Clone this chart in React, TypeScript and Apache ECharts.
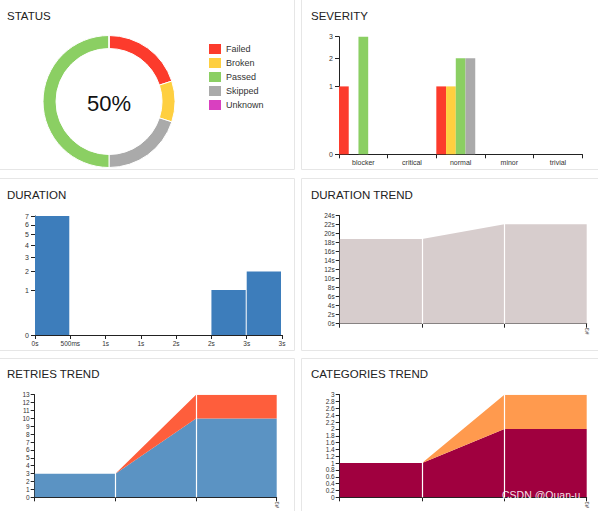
import React, { useEffect, useRef } from "react";
import * as echarts from "echarts";

// ---------- data ----------
const statusNames = ["Failed", "Broken", "Passed", "Skipped", "Unknown"];
const statusColors = ["#fc3b2c", "#fecf40", "#8bcf63", "#aaaaaa", "#d940c0"];
const statusCounts = [2, 1, 5, 2, 0];
const pieDrawOrder = [0, 1, 3, 2, 4];

const severityCategories = ["blocker", "critical", "normal", "minor", "trivial"];
const severityFailed = [1, 0, 1, 0, 0];
const severityBroken = [0, 0, 1, 0, 0];
const severityPassed = [3, 0, 2, 0, 0];
const severitySkipped = [0, 0, 2, 0, 0];
const severityUnknown = [0, 0, 0, 0, 0];
const severityTicks = [0, 1, 2, 3];

const durationTickValues = [0, 0.5, 1, 1.5, 2, 2.5, 3, 3.5];
const durationTickLabels = ["0s", "500ms", "1s", "1s", "2s", "2s", "3s", "3s"];
const durationBinStart = [0, 2.5, 3];
const durationBinEnd = [0.5, 3, 3.5];
const durationCounts = [7, 1, 2];
const durationTicks = [0, 1, 2, 3, 4, 5, 6, 7];

const trendBuilds = ["", "", "", "#3"];
const durationTrendSeconds = [18.8, 18.8, 22.1, 22.1];
const retriesTrendLower = [3, 3, 10, 10];
const retriesTrendUpper = [0, 0, 3, 3];
const categoriesTrendLower = [1, 1, 2, 2];
const categoriesTrendUpper = [0, 0, 1, 1];

// ---------- styles ----------
const FONT = "Liberation Sans, Arial, sans-serif";
const AXIS_COLOR = "#222";
const axisLine = { show: true, lineStyle: { color: AXIS_COLOR, width: 1 } };
const axisTick = { show: true, length: 4, lineStyle: { color: AXIS_COLOR } };
const lbl = (size: number, extra: any = {}) => ({
  fontSize: size,
  color: "#333",
  fontFamily: FONT,
  ...extra,
});

const titleStyle = { fontSize: 11.5, fontWeight: "normal", color: "#222", fontFamily: FONT };

const sqrtAxis = (gridIndex: number, ticks: number[]) => {
  const vals = ticks.map((t) => Math.sqrt(t));
  return {
    type: "value",
    gridIndex,
    min: 0,
    max: vals[vals.length - 1],
    axisLine,
    axisTick: { ...axisTick, customValues: vals },
    axisLabel: {
      ...lbl(7),
      margin: 6,
      customValues: vals,
      formatter: (v: number) => String(Math.round(v * v)),
    },
    splitLine: { show: false },
  };
};

const trendXAxis = (gridIndex: number) => ({
  type: "category",
  gridIndex,
  data: trendBuilds,
  boundaryGap: false,
  axisLine,
  axisTick: { ...axisTick, interval: 0 },
  axisLabel: { ...lbl(6), interval: 0, rotate: 90, margin: 4 },
  splitLine: { show: false },
});

const trendYAxis = (gridIndex: number, max: number, interval: number, fmt: (v: number) => string) => ({
  type: "value",
  gridIndex,
  min: 0,
  max,
  interval,
  axisLine,
  axisTick,
  axisLabel: { ...lbl(6.5), margin: 5, formatter: fmt },
  splitLine: { show: false },
});

const whiteLines = {
  symbol: "none",
  silent: true,
  label: { show: false },
  lineStyle: { color: "#ffffff", width: 1.2, type: "solid" },
  data: [{ xAxis: 1 }, { xAxis: 2 }],
};

const areaSeries = (
  name: string,
  data: number[],
  color: string,
  axis: number,
  stack: string,
  lines: boolean
) => ({
  name,
  type: "line",
  xAxisIndex: axis,
  yAxisIndex: axis,
  stack,
  data,
  symbol: "none",
  lineStyle: { width: 0 },
  areaStyle: { color, opacity: 1 },
  silent: true,
  ...(lines ? { markLine: whiteLines } : {}),
});

export default function App() {
  const ref = useRef<HTMLDivElement>(null);

  useEffect(() => {
    if (!ref.current) return;
    const chart = echarts.init(ref.current, undefined, { renderer: "svg" });

    const total = statusCounts.reduce((a, b) => a + b, 0);
    const passedPct = Math.round((statusCounts[2] / total) * 100);

    const cards = [
      [-1, -1, 295, 170],
      [301, -1, 300, 170],
      [-1, 178, 295, 172],
      [301, 178, 300, 172],
      [-1, 358, 295, 160],
      [301, 358, 300, 160],
    ].map(([x, y, w, h]) => ({
      type: "rect",
      z: -10,
      silent: true,
      shape: { x: x + 0.5, y: y + 0.5, width: w, height: h },
      style: { fill: "#fff", stroke: "#e6e6e6", lineWidth: 1 },
    }));

    const severitySets = [severityFailed, severityBroken, severityPassed, severitySkipped, severityUnknown];

    const option: any = {
      animation: false,
      backgroundColor: "#fff",
      textStyle: { fontFamily: FONT },
      title: [
        { text: "STATUS", left: 7, top: 10 },
        { text: "SEVERITY", left: 311, top: 9.5 },
        { text: "DURATION", left: 7, top: 188.5 },
        { text: "DURATION TREND", left: 311, top: 189 },
        { text: "RETRIES TREND", left: 7, top: 368 },
        { text: "CATEGORIES TREND", left: 311, top: 368 },
      ].map((t) => ({ ...t, padding: 0, textStyle: titleStyle })),
      legend: {
        data: statusNames,
        orient: "vertical",
        left: 209,
        top: 44,
        itemWidth: 12,
        itemHeight: 10,
        itemGap: 4,
        icon: "rect",
        selectedMode: false,
        padding: 0,
        textStyle: { fontSize: 9, color: "#333", fontFamily: FONT, lineHeight: 10 },
      },
      grid: [
        { left: 339, top: 36.7, width: 243.3, height: 117.6 },
        { left: 35, top: 216, width: 247, height: 119 },
        { left: 339.7, top: 215.7, width: 247, height: 108 },
        { left: 34.7, top: 394.7, width: 242, height: 106 },
        { left: 339.7, top: 394.7, width: 247, height: 108.3 },
      ],
      xAxis: [
        {
          type: "category",
          gridIndex: 0,
          data: severityCategories,
          boundaryGap: true,
          axisLine,
          axisTick: { ...axisTick, alignWithLabel: false, interval: 0 },
          axisLabel: { ...lbl(7), margin: 5, interval: 0 },
          splitLine: { show: false },
        },
        {
          type: "value",
          gridIndex: 1,
          min: 0,
          max: durationTickValues[durationTickValues.length - 1],
          interval: 0.5,
          axisLine,
          axisTick,
          axisLabel: {
            ...lbl(6.5),
            margin: 5,
            formatter: (v: number) => durationTickLabels[Math.round(v / 0.5)] ?? "",
          },
          splitLine: { show: false },
        },
        trendXAxis(2),
        trendXAxis(3),
        trendXAxis(4),
      ],
      yAxis: [
        sqrtAxis(0, severityTicks),
        sqrtAxis(1, durationTicks),
        trendYAxis(2, 24, 2, (v) => `${v}s`),
        trendYAxis(3, 13, 1, (v) => String(v)),
        trendYAxis(4, 3, 0.2, (v) => String(Math.round(v * 10) / 10)),
      ],
      series: [
        {
          name: "status",
          type: "pie",
          center: [109, 101.5],
          radius: [53, 66],
          startAngle: 90,
          clockwise: true,
          avoidLabelOverlap: false,
          label: { show: false },
          labelLine: { show: false },
          silent: true,
          itemStyle: { borderColor: "#fff", borderWidth: 1 },
          data: pieDrawOrder.map((i) => ({
            name: statusNames[i],
            value: statusCounts[i],
            itemStyle: { color: statusColors[i] },
          })),
        },
        ...severitySets.map((set, i) => ({
          name: statusNames[i],
          type: "bar",
          xAxisIndex: 0,
          yAxisIndex: 0,
          barGap: "0%",
          barCategoryGap: "0%",
          silent: true,
          itemStyle: { color: statusColors[i] },
          data: set.map((c) => Math.sqrt(c)),
        })),
        {
          name: "duration",
          type: "custom",
          xAxisIndex: 1,
          yAxisIndex: 1,
          silent: true,
          encode: { x: [0, 1], y: 2 },
          data: durationCounts.map((c, i) => [durationBinStart[i], durationBinEnd[i], Math.sqrt(c)]),
          renderItem: (_p: any, api: any) => {
            const p0 = api.coord([api.value(0), api.value(2)]);
            const p1 = api.coord([api.value(1), 0]);
            return {
              type: "rect",
              shape: { x: p0[0], y: p0[1], width: p1[0] - p0[0] - 1, height: p1[1] - p0[1] },
              style: { fill: "#3d7dbb" },
            };
          },
        },
        areaSeries("durationTrend", durationTrendSeconds, "#d7cdcd", 2, "d", true),
        areaSeries("retriesLower", retriesTrendLower, "#5b93c3", 3, "r", false),
        areaSeries("retriesUpper", retriesTrendUpper, "#fe5e3c", 3, "r", true),
        areaSeries("categoriesLower", categoriesTrendLower, "#a0003f", 4, "c", false),
        areaSeries("categoriesUpper", categoriesTrendUpper, "#ff9a4e", 4, "c", true),
      ],
      graphic: [
        ...cards,
        {
          type: "text",
          x: 109,
          y: 103,
          z: 10,
          silent: true,
          style: {
            text: `${passedPct}%`,
            fontSize: 22,
            fontFamily: FONT,
            fill: "#111",
            textAlign: "center",
            textVerticalAlign: "middle",
          },
        },
        {
          type: "text",
          x: 502,
          y: 495,
          z: 100,
          silent: true,
          style: {
            text: "CSDN @Quan-u",
            fontSize: 10.5,
            fontFamily: FONT,
            fill: "rgba(255,255,255,0.9)",
            textVerticalAlign: "middle",
            shadowBlur: 2,
            shadowColor: "rgba(0,0,0,0.3)",
          },
        },
      ],
    };

    chart.setOption(option);
    return () => chart.dispose();
  }, []);

  return (
    <div
      ref={ref}
      style={{ position: "absolute", left: 0, top: 0, width: 598, height: 511 }}
    />
  );
}
